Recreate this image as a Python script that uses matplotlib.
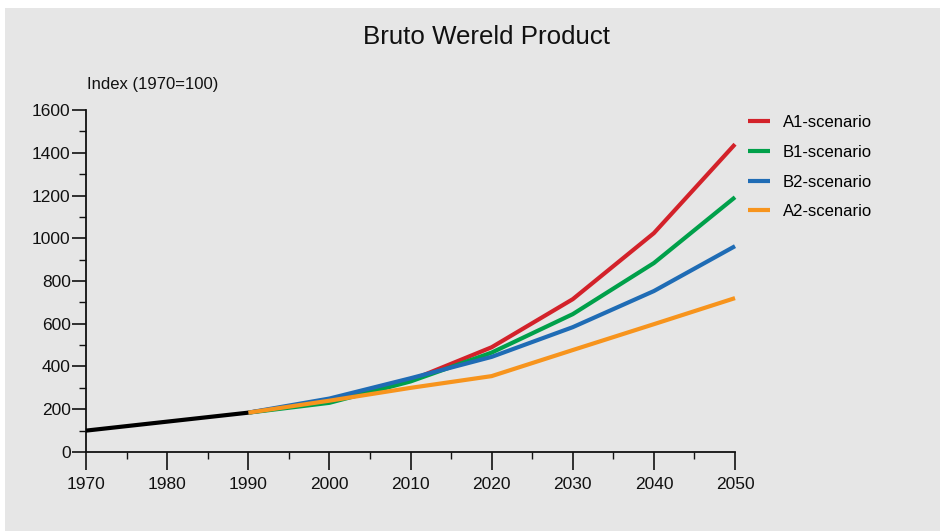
import matplotlib
matplotlib.use("Agg")
import matplotlib.pyplot as plt
from matplotlib.patches import Rectangle
from matplotlib.ticker import MultipleLocator

plt.rcParams['font.family'] = ['Liberation Sans', 'DejaVu Sans']

# Historic index 1970-1990
hist_years = [1970, 1980, 1990]
hist_index = [100, 142, 184]

# Scenario projections 1990-2050
years = [1990, 2000, 2010, 2020, 2030, 2040, 2050]
a1 = [184, 240, 335, 490, 715, 1024, 1440]
b1 = [184, 230, 330, 465, 645, 884, 1192]
b2 = [184, 250, 345, 445, 584, 753, 963]
a2 = [184, 240, 300, 355, 477, 598, 720]

scenarios = ["A1-scenario", "B1-scenario", "B2-scenario", "A2-scenario"]
series = [a1, b1, b2, a2]
colors = ["#d3222a", "#00a04a", "#1f6cb5", "#f7941d"]

BG = "#e6e6e6"

fig = plt.figure(figsize=(9.41, 5.31), dpi=100, facecolor="white")
# grey panel with a thin white margin at top and left
fig.patches.append(Rectangle((5 / 941, 0), 935 / 941, 523 / 531,
                             transform=fig.transFigure, facecolor=BG,
                             edgecolor='none', zorder=-10))

ax = fig.add_axes([0.0914, 0.1488, 0.6897, 0.644])
ax.set_facecolor(BG)

handles = []
for name, vals, c in zip(scenarios, series, colors):
    h, = ax.plot(years, vals, color=c, lw=3.0, label=name, clip_on=False,
                 solid_capstyle='butt')
    handles.append(h)
ax.plot(hist_years, hist_index, color="black", lw=3.0, clip_on=False,
        solid_capstyle='butt', zorder=3)

ax.set_xlim(1970, 2050)
ax.set_ylim(0, 1600)
ax.xaxis.set_major_locator(MultipleLocator(10))
ax.xaxis.set_minor_locator(MultipleLocator(5))
ax.yaxis.set_major_locator(MultipleLocator(200))
ax.yaxis.set_minor_locator(MultipleLocator(100))

for s in ["top", "right"]:
    ax.spines[s].set_visible(False)
for s in ["left", "bottom"]:
    ax.spines[s].set_linewidth(1.3)
    ax.spines[s].set_color("#111111")

ax.tick_params(axis='x', which='major', direction='out', length=13, width=1.2,
               labelsize=12.5, pad=5, colors="#111111")
ax.tick_params(axis='x', which='minor', direction='out', length=5, width=1.0,
               colors="#111111")
ax.tick_params(axis='y', which='major', direction='out', length=10, width=1.2,
               labelsize=12.5, pad=1, colors="#111111")
ax.tick_params(axis='y', which='minor', direction='out', length=5, width=1.0,
               colors="#111111")

fig.text(0.5175, 0.93, "Bruto Wereld Product", ha='center', va='center',
         fontsize=18.6, color="#111111")
fig.text(0.0925, 0.84, "Index (1970=100)", ha='left', va='center',
         fontsize=12, color="#111111")

fig.legend(handles=handles, loc='upper left', bbox_to_anchor=(0.795, 0.783),
           frameon=False, fontsize=12, handlelength=1.32, handletextpad=0.78,
           labelspacing=0.88, borderaxespad=0, borderpad=0)

fig.savefig("out.png", dpi=100, facecolor="white")
